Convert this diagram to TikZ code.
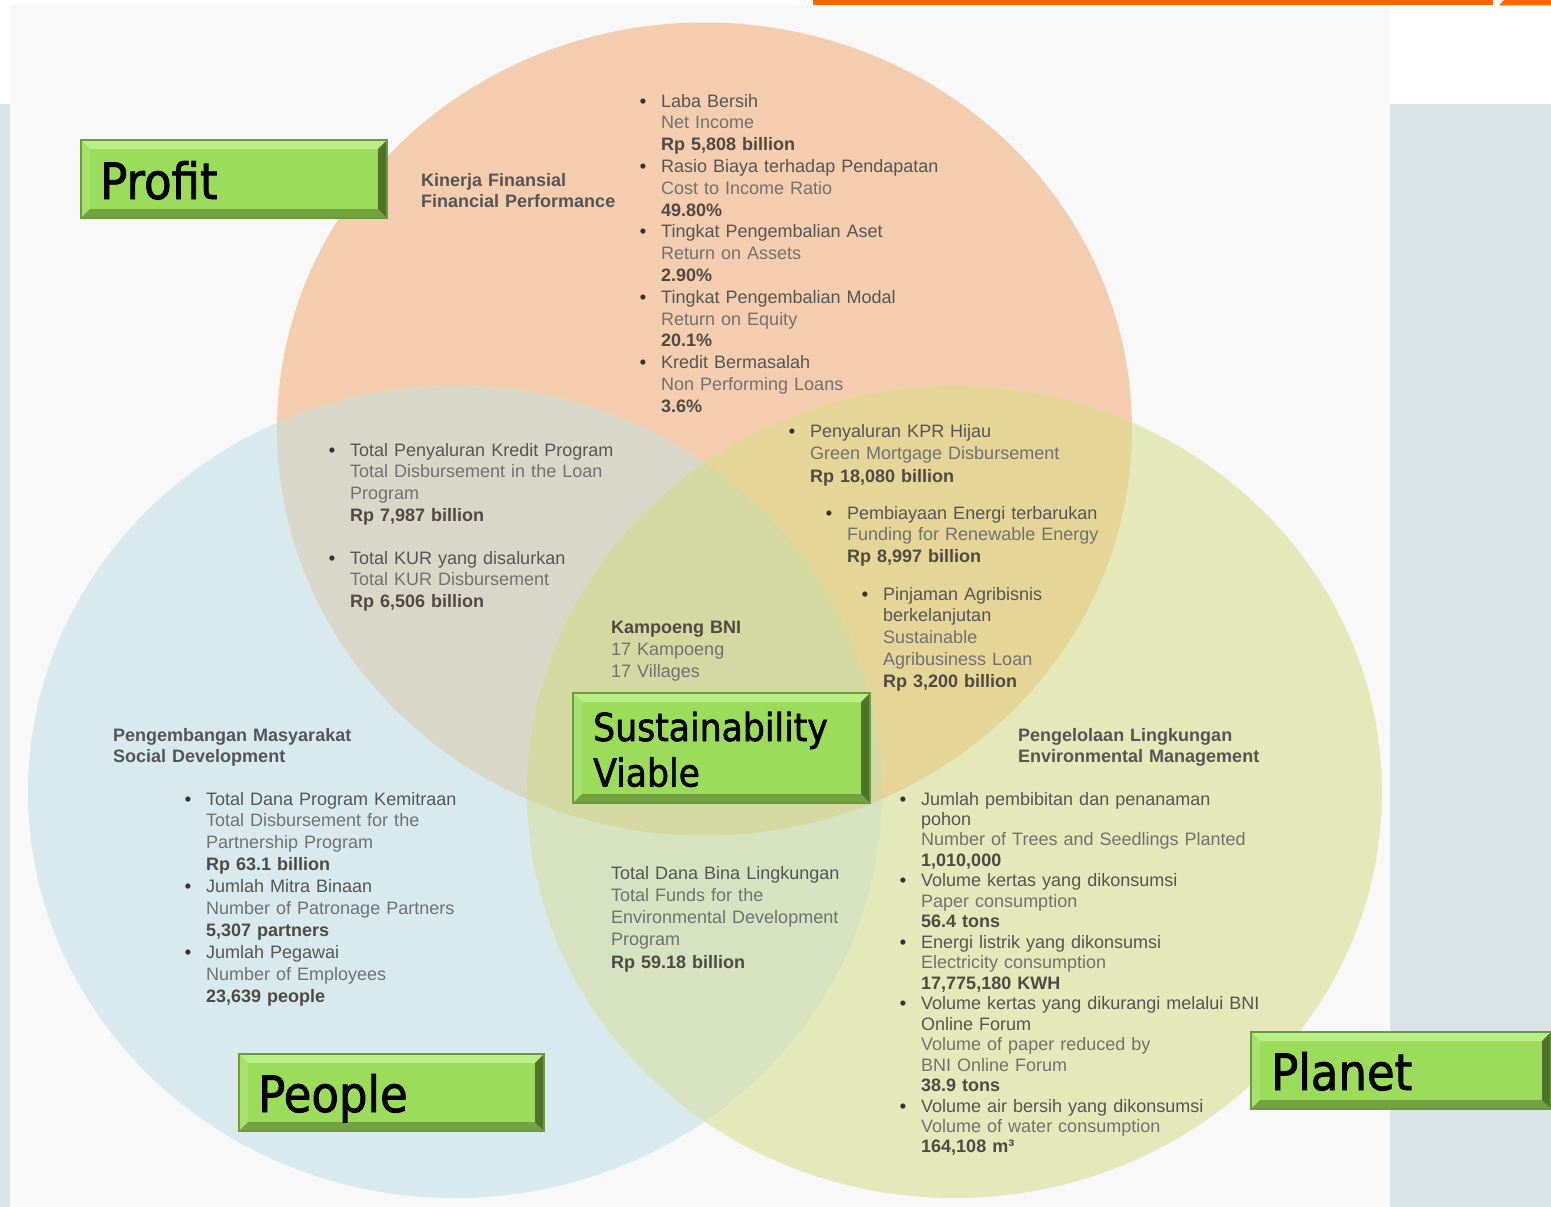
\documentclass[tikz,border=0pt]{standalone}
\usepackage{fontspec}
\setmainfont{Liberation Sans}
\newfontfamily\boxfont[FakeStretch=0.9,FakeBold=1.6]{DejaVu Sans}
\usetikzlibrary{calc}
\definecolor{bgpanel}{HTML}{F8F8F8}
\definecolor{bgside}{HTML}{D9E4E6}
\definecolor{barorange}{HTML}{FF6600}
\definecolor{cO}{HTML}{F3CDAE}
\definecolor{cB}{HTML}{D9EAEF}
\definecolor{cG}{HTML}{E4E9BA}
\definecolor{cOB}{HTML}{D9D7C8}
\definecolor{cOG}{HTML}{E5D597}
\definecolor{cBG}{HTML}{D6E2C0}
\definecolor{cAll}{HTML}{D4D9A2}
\definecolor{cone}{HTML}{555555}
\definecolor{ctwo}{HTML}{717171}
\definecolor{cbold}{HTML}{4F4A44}
\definecolor{bulc}{HTML}{333333}
\definecolor{gmid}{HTML}{9BDD5A}
\definecolor{gtop}{HTML}{BAEF88}
\definecolor{gleft}{HTML}{A6E16E}
\definecolor{gbot}{HTML}{72A340}
\definecolor{gright}{HTML}{4F732C}
\definecolor{gedge}{HTML}{6C9B3F}
\newcommand\bul{\makebox[0pt][r]{\textcolor{bulc}{\bfseries\char"2022}\hspace{15pt}}}
\newcommand\one[1]{\textcolor{cone}{#1}}
\newcommand\val[1]{\textcolor{cbold}{\textbf{#1}}}
\newcommand\greenbevel[4]{%
  \fill[gmid] (#1,#2) rectangle (#3,#4);
  \fill[gtop] (#1,#2) -- (#3,#2) -- ({#3-9},{#2+9}) -- ({#1+9},{#2+9}) -- cycle;
  \fill[gleft] (#1,#2) -- ({#1+9},{#2+9}) -- ({#1+9},{#4-9}) -- (#1,#4) -- cycle;
  \fill[gbot] (#1,#4) -- ({#1+9},{#4-9}) -- ({#3-9},{#4-9}) -- (#3,#4) -- cycle;
  \fill[gright] (#3,#2) -- ({#3-9},{#2+9}) -- ({#3-9},{#4-9}) -- (#3,#4) -- cycle;
  \draw[gedge, line width=1.2pt] (#1,#2) rectangle (#3,#4);
}
\tikzset{
  txt/.style={anchor=base west, inner sep=0pt, text width=440pt, align=left,
    text=ctwo, font=\fontsize{18pt}{21.8pt}\selectfont},
  head/.style={txt, text=cone, font=\fontsize{18pt}{21.5pt}\selectfont\bfseries},
  boxlbl/.style={anchor=base west, inner sep=0pt, text width=320pt, align=left,
    text=black, font=\boxfont\fontsize{50pt}{60pt}\selectfont},
}
\begin{document}
\begin{tikzpicture}[x=1pt,y=-1pt]
\useasboundingbox (0,0) rectangle (1551,1207);
% background
\fill[white] (0,0) rectangle (1551,1207);
\fill[bgside] (0,104) rectangle (10,1207);
\fill[bgside] (1390,104) rectangle (1551,1207);
\fill[bgpanel] (10,5) rectangle (1390,1207);
\fill[barorange] (813,0) rectangle (1493,5.5);
\fill[barorange] (1499,5.5) -- (1504,0) -- (1551,0) -- (1551,5.5) -- cycle;
% circles
\fill[cO] (704.5,429) ellipse [x radius=427.5pt, y radius=406.5pt];
\fill[cB] (455,792) ellipse [x radius=427pt, y radius=406pt];
\fill[cG] (954.5,792) ellipse [x radius=427.5pt, y radius=406pt];
\begin{scope}
  \clip (704.5,429) ellipse [x radius=427.5pt, y radius=406.5pt];
  \fill[cOB] (455,792) ellipse [x radius=427pt, y radius=406pt];
  \fill[cOG] (954.5,792) ellipse [x radius=427.5pt, y radius=406pt];
\end{scope}
\begin{scope}
  \clip (455,792) ellipse [x radius=427pt, y radius=406pt];
  \fill[cBG] (954.5,792) ellipse [x radius=427.5pt, y radius=406pt];
\end{scope}
\begin{scope}
  \clip (704.5,429) ellipse [x radius=427.5pt, y radius=406.5pt];
  \clip (455,792) ellipse [x radius=427pt, y radius=406pt];
  \fill[cAll] (954.5,792) ellipse [x radius=427.5pt, y radius=406pt];
\end{scope}
% Profit circle texts
\node[head] (finhead) at (421,186) {Kinerja Finansial\\Financial Performance};
\node[txt] (finlist) at (661,107) {%
\bul\one{Laba Bersih}\\
Net Income\\
\val{Rp 5,808 billion}\\
\bul\one{Rasio Biaya terhadap Pendapatan}\\
Cost to Income Ratio\\
\val{49.80\%}\\
\bul\one{Tingkat Pengembalian Aset}\\
Return on Assets\\
\val{2.90\%}\\
\bul\one{Tingkat Pengembalian Modal}\\
Return on Equity\\
\val{20.1\%}\\
\bul\one{Kredit Bermasalah}\\
Non Performing Loans\\
\val{3.6\%}};
% Profit & People
\node[txt] (loanprog) at (350,456) {%
\bul\one{Total Penyaluran Kredit Program}\\
Total Disbursement in the Loan\\
Program\\
\val{Rp 7,987 billion}};
\node[txt] (kur) at (350,564) {%
\bul\one{Total KUR yang disalurkan}\\
Total KUR Disbursement\\
\val{Rp 6,506 billion}};
% Profit & Planet
\node[txt, font=\fontsize{18pt}{22.5pt}\selectfont] (kpr) at (810,437) {%
\bul\one{Penyaluran KPR Hijau}\\
Green Mortgage Disbursement\\
\val{Rp 18,080 billion}};
\node[txt] (energy) at (847,519) {%
\bul\one{Pembiayaan Energi terbarukan}\\
Funding for Renewable Energy\\
\val{Rp 8,997 billion}};
\node[txt, font=\fontsize{18pt}{21.75pt}\selectfont] (agri) at (883,600) {%
\bul\one{Pinjaman Agribisnis}\\
\one{berkelanjutan}\\
Sustainable\\
Agribusiness Loan\\
\val{Rp 3,200 billion}};
% centre
\node[txt, font=\fontsize{18pt}{22pt}\selectfont] (kampoeng) at (611,633) {%
\val{Kampoeng BNI}\\
17 Kampoeng\\
17 Villages};
% People
\node[head] (peoplehead) at (113,741) {Pengembangan Masyarakat\\Social Development};
\node[txt, font=\fontsize{18pt}{21.9pt}\selectfont] (peoplelist) at (206,805) {%
\bul\one{Total Dana Program Kemitraan}\\
Total Disbursement for the\\
Partnership Program\\
\val{Rp 63.1 billion}\\
\bul\one{Jumlah Mitra Binaan}\\
Number of Patronage Partners\\
\val{5,307 partners}\\
\bul\one{Jumlah Pegawai}\\
Number of Employees\\
\val{23,639 people}};
% People & Planet
\node[txt, font=\fontsize{18pt}{22.25pt}\selectfont] (binaling) at (611,879) {%
\one{Total Dana Bina Lingkungan}\\
Total Funds for the\\
Environmental Development\\
Program\\
\val{Rp 59.18 billion}};
% Planet
\node[head] (planethead) at (1018,741) {Pengelolaan Lingkungan\\Environmental Management};
\node[txt, font=\fontsize{18pt}{20.47pt}\selectfont] (planetlist) at (921,805) {%
\bul\one{Jumlah pembibitan dan penanaman}\\
\one{pohon}\\
Number of Trees and Seedlings Planted\\
\val{1,010,000}\\
\bul\one{Volume kertas yang dikonsumsi}\\
Paper consumption\\
\val{56.4 tons}\\
\bul\one{Energi listrik yang dikonsumsi}\\
Electricity consumption\\
\val{17,775,180 KWH}\\
\bul\one{Volume kertas yang dikurangi melalui BNI}\\
\one{Online Forum}\\
Volume of paper reduced by\\
BNI Online Forum\\
\val{38.9 tons}\\
\bul\one{Volume air bersih yang dikonsumsi}\\
Volume of water consumption\\
\val{164,108 m³}};
% green bevel boxes
\greenbevel{81}{140}{387}{218}
\node[boxlbl] (profit) at (100,199) {Profit};
\greenbevel{573}{693}{870}{803}
\node[boxlbl, font=\boxfont\fontsize{38.5pt}{45.5pt}\selectfont] (sustain) at (593,741) {Sustainability\\Viable};
\greenbevel{239}{1054}{544}{1131}
\node[boxlbl] (people) at (258,1112) {People};
\greenbevel{1251}{1032}{1551}{1109}
\node[boxlbl] (planet) at (1271,1090) {Planet};
\end{tikzpicture}
\end{document}
